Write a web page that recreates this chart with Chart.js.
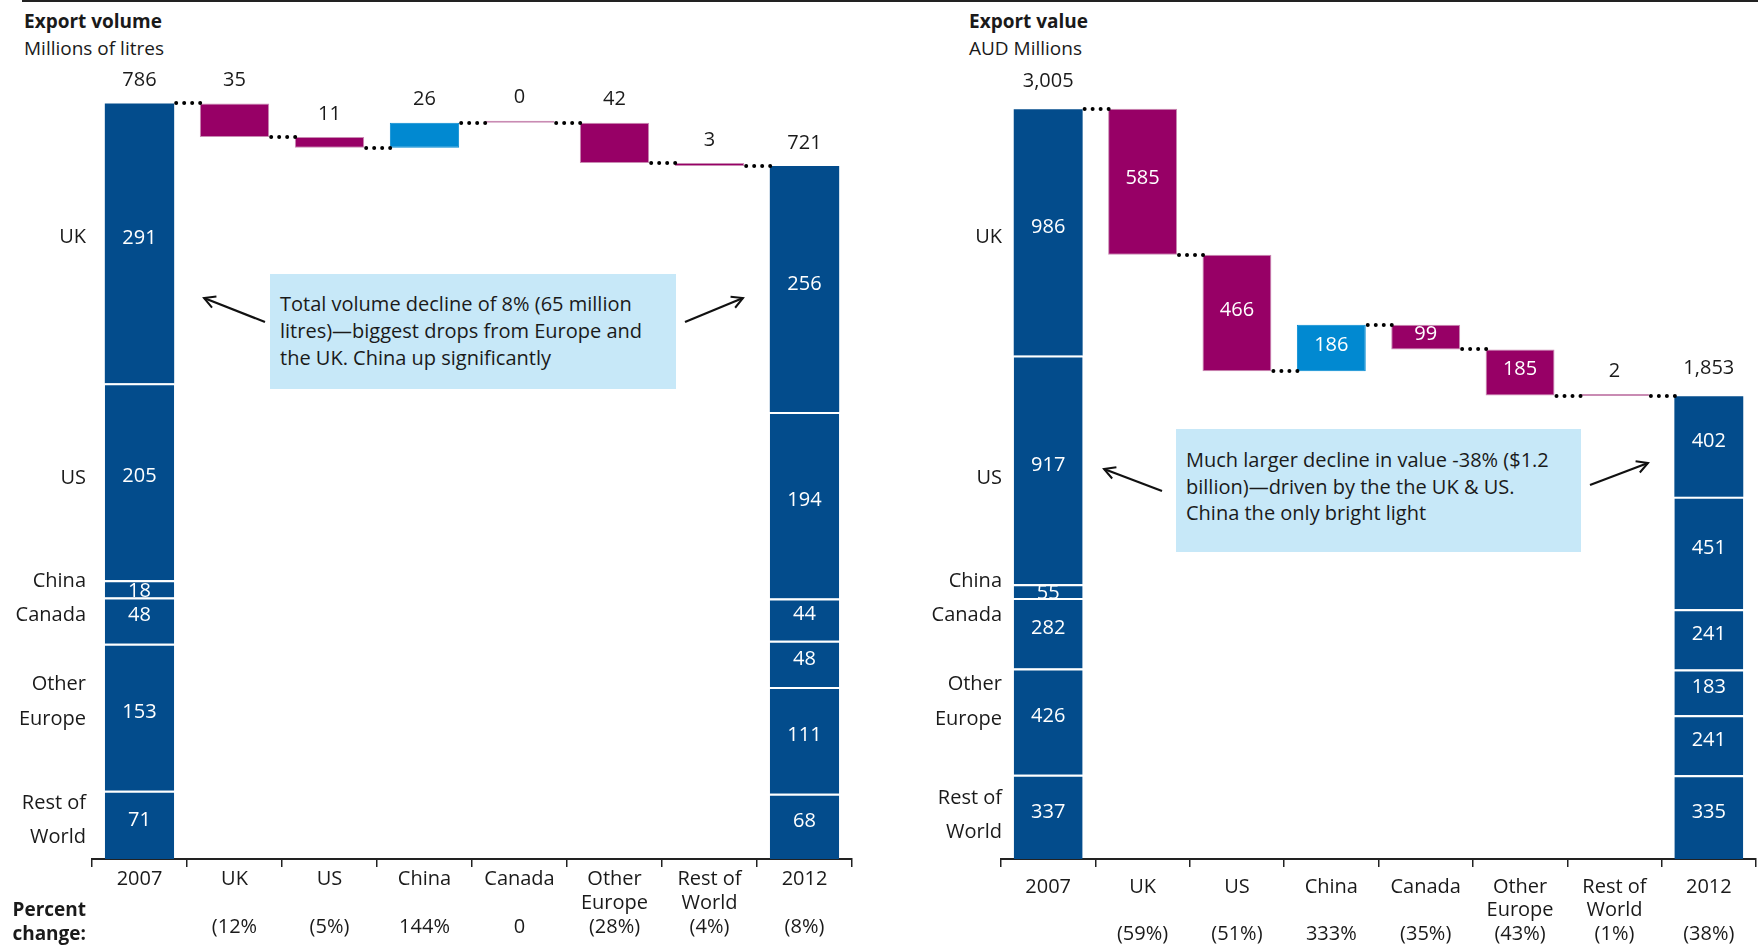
<!DOCTYPE html>
<html>
<head>
<meta charset="utf-8">
<script src="https://cdn.jsdelivr.net/npm/chart.js@4"></script>
<style>
  body { margin: 0; width: 1758px; height: 946px; position: relative; overflow: hidden; background: #fff;
         font-family: "Open Sans", sans-serif; color: #1a1a1a; }
  .rule { position: absolute; left: 22px; right: 0; top: 0; height: 2px; background: #222; }
  .title { position: absolute; top: 9px; font-size: 19px; font-weight: 700; line-height: 24px; }
  .sub { position: absolute; top: 36px; font-size: 19px; line-height: 24px; }
  canvas { position: absolute; top: 0; }
  .note { position: absolute; background: #c7e8f8; font-size: 20px; box-sizing: border-box; padding: 0 10px; }
  .pct { position: absolute; left: 0; top: 897px; width: 86px; text-align: right; font-weight: 700; font-size: 19px; line-height: 24px; }
  svg { position: absolute; left: 0; top: 0; pointer-events: none; }
</style>
</head>
<body>
<div class="rule"></div>
<div class="title" style="left:24px">Export volume</div>
<div class="sub" style="left:24px">Millions of litres</div>
<div class="title" style="left:969px">Export value</div>
<div class="sub" style="left:969px">AUD Millions</div>

<canvas id="volChart" width="880" height="946" style="left:0"></canvas>
<canvas id="valChart" width="878" height="946" style="left:880px"></canvas>

<div class="note" style="left:270px;top:274px;width:406px;height:115px;padding-top:16px;line-height:27px">
Total volume decline of 8% (65 million<br>litres)—biggest drops from Europe and<br>the UK. China up significantly</div>
<div class="note" style="left:1176px;top:429px;width:405px;height:123px;padding-top:18px;line-height:26.5px">
Much larger decline in value -38% ($1.2<br>billion)—driven by the the UK &amp; US.<br>China the only bright light</div>
<div class="pct">Percent<br>change:</div>

<svg width="1758" height="946">
  <defs>
    <marker id="head" markerWidth="16" markerHeight="16" refX="13" refY="8" orient="auto" markerUnits="userSpaceOnUse">
      <path d="M2,2 L13,8 L2,14" fill="none" stroke="#111" stroke-width="2"/>
    </marker>
  </defs>
  <g stroke="#111" stroke-width="2.2" marker-end="url(#head)">
    <line x1="265" y1="322" x2="204" y2="298"/>
    <line x1="685" y1="322" x2="743" y2="298"/>
    <line x1="1162" y1="491" x2="1104" y2="469"/>
    <line x1="1590" y1="485" x2="1648" y2="463"/>
  </g>
</svg>

<script>
// categories along the x axis
const categories = ['2007', 'UK', 'US', 'China', 'Canada', ['Other', 'Europe'], ['Rest of', 'World'], '2012'];
// stack segments, bottom to top
const segments = ['Rest of World', 'Other Europe', 'Canada', 'China', 'US', 'UK'];

// export volume, millions of litres
const volume2007 = [71, 153, 48, 18, 205, 291];
const volume2012 = [68, 111, 48, 44, 194, 256];
const volumeChange = [-35, -11, 26, 0, -42, -3];   // UK, US, China, Canada, Other Europe, RoW
const volumeTotals = [786, 721];
const volumePct = ['', '(12%', '(5%)', '144%', '0', '(28%)', '(4%)', '(8%)'];

// export value, AUD millions
const value2007 = [337, 426, 282, 55, 917, 986];
const value2012 = [335, 241, 183, 241, 451, 402];
const valueChange = [-585, -466, 186, -99, -185, -2];
const valueTotals = [3005, 1853];
const valuePct = ['', '(59%)', '(51%)', '333%', '(35%)', '(43%)', '(1%)', '(38%)'];

const FONT = '"Open Sans", sans-serif';
const BLUE = '#034c8c';
const MAGENTA = '#970066';
const CYAN = '#0189d1';
const TEXT = '#1a1a1a';
const fmt = v => v.toLocaleString('en-US');

function labelPlugin(o, levels) {
  return {
    id: 'wfLabels',
    afterDatasetsDraw(chart) {
      const { ctx, chartArea } = chart;
      const y = chart.scales.y, x = chart.scales.x;
      const n = categories.length;
      const last = chart.data.datasets.length - 1;
      const seg = k => chart.getDatasetMeta(k).data;
      const chg = seg(last);
      const w = seg(0)[0].width;

      ctx.save();
      // dotted connectors between bars
      ctx.strokeStyle = '#000';
      ctx.lineWidth = 4;
      ctx.lineCap = 'round';
      ctx.setLineDash([0, 8]);
      for (let i = 0; i < n - 1; i++) {
        const py = Math.round(y.getPixelForValue(levels[i]));
        ctx.beginPath();
        ctx.moveTo(x.getPixelForValue(i) + w / 2 + 2, py);
        ctx.lineTo(x.getPixelForValue(i + 1) - w / 2 + 1, py);
        ctx.stroke();
      }
      ctx.setLineDash([]);

      ctx.font = `20px ${FONT}`;
      ctx.textAlign = 'center';
      ctx.textBaseline = 'middle';

      // values inside the stacked 2007 / 2012 bars
      segments.forEach((_, k) => {
        [0, n - 1].forEach(i => {
          const el = seg(k)[i];
          const top = el.y, bot = el.base;
          const h = bot - top;
          ctx.save();
          ctx.beginPath();
          ctx.rect(el.x - w / 2, top, w, h);
          ctx.clip();
          ctx.fillStyle = '#fff';
          ctx.fillText(String(i === 0 ? o.start[k] : o.end[k]), el.x, (top + bot) / 2 + (h > 30 ? -5 : 2));
          ctx.restore();
        });
      });

      // change labels
      o.changes.forEach((c, j) => {
        const el = chg[j + 1];
        const top = Math.min(el.y, el.base), bot = Math.max(el.y, el.base);
        if (Math.abs(c) >= o.inside) {
          ctx.fillStyle = '#fff';
          ctx.fillText(fmt(Math.abs(c)), el.x, (top + bot) / 2 - 3);
        } else {
          ctx.fillStyle = TEXT;
          ctx.fillText(fmt(Math.abs(c)), el.x, top - 23);
        }
      });

      // totals above the full bars
      [0, n - 1].forEach((i, t) => {
        const top = seg(last - 1)[i].y;
        ctx.fillStyle = TEXT;
        ctx.fillText(fmt(o.totals[t]), x.getPixelForValue(i), top - o.totalOff);
      });

      // segment names to the left of the 2007 bar
      ctx.textAlign = 'right';
      ctx.fillStyle = TEXT;
      o.side.forEach(([txt, py]) => ctx.fillText(txt, chartArea.left + o.sideDx, py));
      ctx.restore();
    }
  };
}

function waterfall(id, o) {
  const n = categories.length;
  const levels = [o.totals[0]];
  o.changes.forEach(c => levels.push(levels[levels.length - 1] + c));

  const datasets = segments.map((name, k) => ({
    label: name,
    data: categories.map((_, i) => i === 0 ? o.start[k] : (i === n - 1 ? o.end[k] : null)),
    backgroundColor: BLUE,
    borderColor: '#fff',
    borderWidth: k === segments.length - 1 ? 0 : { top: 2, left: 0, right: 0, bottom: 0 },
    borderSkipped: false
  }));
  datasets.push({
    label: 'change',
    data: categories.map((_, i) => (i === 0 || i === n - 1) ? null : [levels[i - 1], levels[i]]),
    backgroundColor: categories.map((_, i) => o.changes[i - 1] > 0 ? CYAN : MAGENTA),
    borderColor: categories.map((_, i) => o.changes[i - 1] > 0 ? CYAN : '#c98bb3'),
    borderWidth: 1,
    borderSkipped: false,
    minBarLength: 2
  });

  const labels = categories.map((c, i) => [...(Array.isArray(c) ? c : [c, '']), o.pct[i]]);

  return new Chart(document.getElementById(id), {
    type: 'bar',
    data: { labels, datasets },
    plugins: [labelPlugin(o, levels)],
    options: {
      responsive: false,
      animation: false,
      layout: { padding: { left: o.padL, right: o.padR, top: o.padT, bottom: 0 } },
      datasets: { bar: { categoryPercentage: 1, barPercentage: 0.73 } },
      plugins: { legend: { display: false }, tooltip: { enabled: false } },
      scales: {
        x: {
          stacked: true,
          grid: { drawOnChartArea: false, drawTicks: true, tickLength: 8, color: '#222', lineWidth: 1.5, offset: true },
          border: { color: '#222', width: 2 },
          ticks: { padding: o.tickPad, color: TEXT, autoSkip: false, maxRotation: 0,
                   font: { family: FONT, size: 20, lineHeight: o.lineH } },
          afterFit: s => { s.height = 946 - 859; }
        },
        y: { display: false, stacked: true, min: 0, max: o.max }
      }
    }
  });
}

waterfall('volChart', {
  start: volume2007, end: volume2012, changes: volumeChange, totals: volumeTotals, pct: volumePct,
  max: 800, padL: 92, padR: 28, padT: 90, tickPad: 0, lineH: 1.2, inside: Infinity, totalOff: 23,
  sideDx: -6,
  side: [['UK', 237], ['US', 478], ['China', 581], ['Canada', 615], ['Other', 684], ['Europe', 719], ['Rest of', 803], ['World', 837]]
});

waterfall('valChart', {
  start: value2007, end: value2012, changes: valueChange, totals: valueTotals, pct: valuePct,
  max: 3100, padL: 121, padR: 2, padT: 85, tickPad: 8, lineH: 1.18, inside: 50, totalOff: 28,
  sideDx: 1,
  side: [['UK', 237], ['US', 478], ['China', 581], ['Canada', 615], ['Other', 684], ['Europe', 719], ['Rest of', 798], ['World', 832]]
});
</script>
</body>
</html>
